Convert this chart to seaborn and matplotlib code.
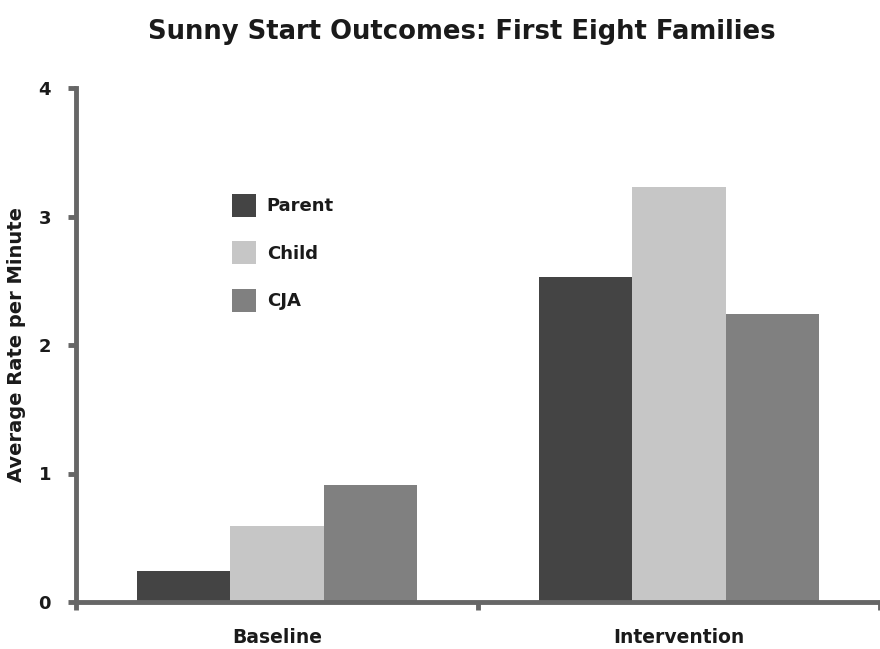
""" Sunny Start outcomes bar chart. """

import pandas as pd
import numpy as np
import matplotlib.pyplot as plt
import seaborn as sns
from matplotlib.ticker import FixedLocator

phases = ['Baseline', 'Intervention']
groups = ['Parent', 'Child', 'CJA']
parent_rate = [0.24, 2.53]
child_rate = [0.59, 3.23]
cja_rate = [0.91, 2.24]
y_ticks = [0, 1, 2, 3, 4]

colors = ['#444444', '#c6c6c6', '#808080']
axis_col = '#666666'
txt_col = '#1a1a1a'

rows = []
for g, vals in zip(groups, [parent_rate, child_rate, cja_rate]):
    for p, v in zip(phases, vals):
        rows.append({'phase': p, 'group': g, 'rate': v})
df = pd.DataFrame(rows)

sns.set_style('white')
plt.rcParams['font.family'] = ['DejaVu Sans']

fig = plt.figure(figsize=(8.8, 6.49), dpi=100)
ax = fig.add_axes([76 / 880, 1 - 602 / 649, 804 / 880, 514 / 649])

sns.barplot(data=df, x='phase', y='rate', hue='group', order=phases,
            hue_order=groups, palette=colors, width=0.695, saturation=1,
            edgecolor='none', linewidth=0, ax=ax)

ax.set_xlim(-0.5, 1.5)
ax.set_ylim(0, 4)
ax.set_yticks(y_ticks)
ax.set_yticklabels([str(t) for t in y_ticks], fontsize=13, fontweight='bold',
                   color=txt_col)
ax.set_xticks([0, 1])
ax.set_xticklabels(phases, fontsize=13.5, fontweight='bold', color=txt_col)
ax.xaxis.set_minor_locator(FixedLocator([-0.5, 0.5, 1.5]))
ax.tick_params(axis='x', which='major', length=0, pad=19)
ax.tick_params(axis='x', which='minor', length=6, width=3.5,
               color=axis_col, direction='out', bottom=True)
ax.tick_params(axis='y', length=6, width=3.5, color=axis_col,
               direction='out', pad=12, left=True)

for side in ['top', 'right']:
    ax.spines[side].set_visible(False)
for side in ['left', 'bottom']:
    ax.spines[side].set_color(axis_col)
    ax.spines[side].set_linewidth(3.5)

ax.set_xlabel('')
ax.set_ylabel('Average Rate per Minute', fontsize=14, fontweight='bold',
              labelpad=9, color=txt_col)

ax.legend(loc='upper left', bbox_to_anchor=(0.194, 0.794), frameon=False,
          prop={'size': 13, 'weight': 'bold'}, handlelength=1.33,
          handleheight=1.6, handletextpad=0.6, labelspacing=1.34,
          borderpad=0, borderaxespad=0, labelcolor=txt_col)

fig.suptitle('Sunny Start Outcomes: First Eight Families', x=0.525, y=0.97,
             fontsize=18.6, fontweight='bold', color=txt_col)

fig.savefig('out.png', dpi=100)
